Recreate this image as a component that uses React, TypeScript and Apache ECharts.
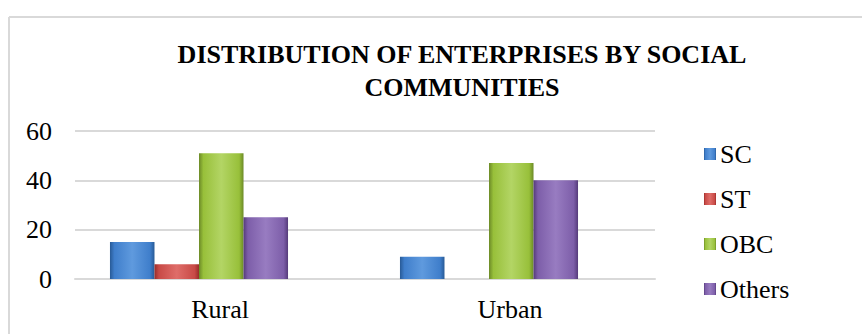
import React, { useEffect, useRef } from "react";
import * as echarts from "echarts";

const categories = ["Rural", "Urban"];
const seriesNames = ["SC", "ST", "OBC", "Others"];
const scValues = [15, 9];
const stValues = [6, 0];
const obcValues = [51, 47];
const othersValues = [25, 40];
const yTicks = [0, 20, 40, 60];
const titleLines = ["DISTRIBUTION OF ENTERPRISES BY SOCIAL", "COMMUNITIES"];

const palette = [
  { dark: "#285a96", mid: "#3f7ecb", light: "#5f9ade" },
  { dark: "#982c29", mid: "#c84a46", light: "#df6d69" },
  { dark: "#6c8a27", mid: "#98c03a", light: "#b3d565" },
  { dark: "#553b7a", mid: "#7d5ea9", light: "#987cc1" },
];

function grad(c: { dark: string; mid: string; light: string }) {
  return new echarts.graphic.LinearGradient(0, 0, 1, 0, [
    { offset: 0, color: c.dark },
    { offset: 0.1, color: c.mid },
    { offset: 0.5, color: c.light },
    { offset: 0.9, color: c.mid },
    { offset: 1, color: c.dark },
  ]);
}

export default function App() {
  const ref = useRef<HTMLDivElement>(null);
  useEffect(() => {
    if (!ref.current) return;
    const chart = echarts.init(ref.current, null, { renderer: "svg" });
    const values = [scValues, stValues, obcValues, othersValues];
    const font = "Liberation Serif";
    const yMin = yTicks[0];
    const yMax = yTicks[yTicks.length - 1];
    chart.setOption({
      animation: false,
      backgroundColor: "#ffffff",
      textStyle: { fontFamily: font },
      title: {
        text: titleLines.join("\n"),
        left: 457,
        top: 33,
        textAlign: "center",
        textStyle: {
          fontFamily: font,
          fontWeight: "bold",
          fontSize: 26,
          lineHeight: 33,
          color: "#000",
        },
      },
      graphic: [
        {
          type: "line",
          shape: { x1: 9, y1: 17, x2: 862, y2: 17 },
          style: { stroke: "#d9d9d9", lineWidth: 2 },
        },
        {
          type: "line",
          shape: { x1: 9, y1: 17, x2: 9, y2: 334 },
          style: { stroke: "#d9d9d9", lineWidth: 2 },
        },
      ],
      legend: {
        orient: "vertical",
        left: 699,
        top: 136,
        itemWidth: 12,
        itemHeight: 12,
        itemGap: 19,
        icon: "rect",
        data: seriesNames,
        textStyle: { fontFamily: font, fontSize: 26, color: "#000", padding: [0, 0, 0, -1], lineHeight: 26 },
      },
      grid: [
        { left: 75, right: 207, top: 131, bottom: 55, containLabel: false },
        { left: 54, right: 228, top: 131, bottom: 55, containLabel: false },
      ],
      xAxis: [
        {
          type: "category",
          gridIndex: 0,
          data: categories,
          axisLine: { show: true, lineStyle: { color: "#d9d9d9", width: 2 } },
          axisTick: { show: false },
          axisLabel: { fontFamily: font, fontSize: 26, color: "#000", margin: 17 },
        },
        {
          type: "category",
          gridIndex: 1,
          data: categories,
          axisLine: { show: false },
          axisTick: { show: false },
          axisLabel: { show: false },
        },
      ],
      yAxis: [
        {
          type: "value",
          gridIndex: 0,
          min: yMin,
          max: yMax,
          interval: 20,
          axisLine: { show: false },
          axisTick: { show: false },
          splitLine: { lineStyle: { color: "#d9d9d9", width: 2 } },
          axisLabel: { fontFamily: font, fontSize: 26, color: "#000", margin: 23 },
        },
        {
          type: "value",
          gridIndex: 1,
          min: yMin,
          max: yMax,
          interval: 20,
          axisLine: { show: false },
          axisTick: { show: false },
          splitLine: { show: false },
          axisLabel: { show: false },
        },
      ],
      series: seriesNames.map((name, i) => ({
        name,
        type: "bar",
        xAxisIndex: 1,
        yAxisIndex: 1,
        data: values[i],
        barGap: "0%",
        barCategoryGap: "38.6%",
        itemStyle: { color: grad(palette[i]) },
      })),
      color: palette.map((p) => p.mid),
    });
    return () => chart.dispose();
  }, []);
  return (
    <div
      ref={ref}
      style={{ position: "fixed", left: 0, top: 0, width: 862, height: 334 }}
    />
  );
}
